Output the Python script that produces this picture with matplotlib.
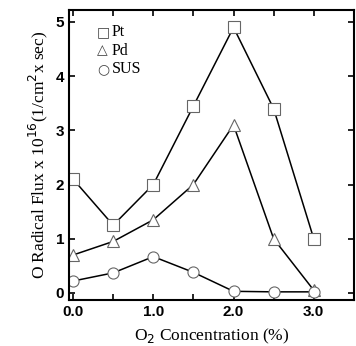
import numpy as np
import matplotlib.pyplot as plt

# O2 concentration (%)
conc = [0.0, 0.5, 1.0, 1.5, 2.0, 2.5, 3.0]
pt = [2.1, 1.25, 2.0, 3.45, 4.9, 3.4, 1.0]
pd_ = [0.7, 0.95, 1.35, 2.0, 3.1, 1.0, 0.05]
sus = [0.22, 0.37, 0.67, 0.38, 0.03, 0.02, 0.02]

xticks = [0.0, 1.0, 2.0, 3.0]
xlabels = ["0.0", "1.0", "2.0", "3.0"]
yticks = [0, 1, 2, 3, 4, 5]
names = ["Pt", "Pd", "SUS"]
symbols = ["\u25a1", "\u25b3", "\u25cb"]
legend_y = [4.81, 4.47, 4.13]

fig = plt.figure(figsize=(3.56, 3.46), dpi=100)
ax = fig.add_axes([0.194, 0.133, 0.80, 0.838])

mk = dict(color="black", lw=1.1, ms=8, mfc="white", mec="#666666", mew=0.8)
ax.plot(conc, pt, marker="s", ls="-", **mk)
ax.plot(conc, pd_, marker="^", ls="-", **mk)
ax.plot(conc, sus, marker="o", ls="-", **mk)

ax.set_xlim(-0.05, 3.5)
ax.set_ylim(-0.13, 5.22)
ax.set_xticks(xticks)
ax.set_xticklabels(xlabels, fontsize=11, family="Liberation Sans", weight="bold")
ax.set_xticks([0.5, 1.5, 2.5], minor=True)
ax.set_yticks(yticks)
ax.set_yticklabels([str(v) for v in yticks], fontsize=11, family="Liberation Sans", weight="bold")
ax.tick_params(direction="in", top=True, right=True, which="both", length=4, width=1.2)
for s in ax.spines.values():
    s.set_linewidth(1.5)

ax.set_xlabel("O$_2$ Concentration (%)", family="Liberation Serif", fontsize=12.5,
              labelpad=6)
ax.set_ylabel("O Radical Flux x 10$^{16}$(1/cm$^2$x sec)", family="Liberation Serif",
              fontsize=12.5, labelpad=4)

# legend drawn as text, symbol + name
for sym, name, yy in zip(symbols, names, legend_y):
    ax.text(0.3, yy, sym, family="DejaVu Sans", fontsize=10, va="center", color="#444444")
    ax.text(0.48, yy, name, family="Liberation Serif", fontsize=11.5, va="center")

fig.savefig("out.png", dpi=100)
